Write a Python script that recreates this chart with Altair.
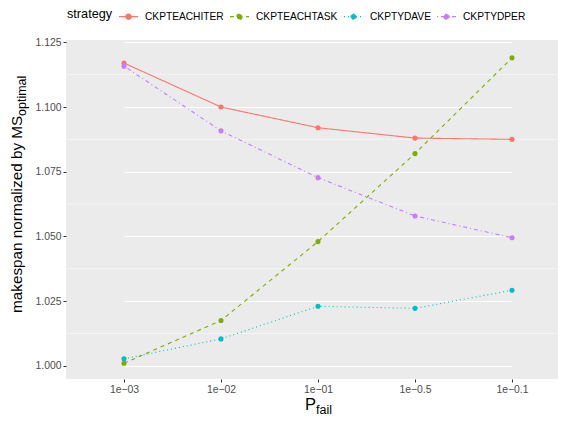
import altair as alt
import pandas as pd

# ---- data ----
pfail = ["1e\u221203", "1e\u221202", "1e\u221201", "1e\u22120.5", "1e\u22120.1"]
strategies = ["CKPTEACHITER", "CKPTEACHTASK", "CKPTYDAVE", "CKPTYDPER"]
ckpt_each_iter = [1.117, 1.100, 1.092, 1.088, 1.0875]
ckpt_each_task = [1.001, 1.0175, 1.048, 1.082, 1.119]
ckpt_yd_ave = [1.0027, 1.0104, 1.023, 1.0222, 1.0292]
ckpt_yd_per = [1.1158, 1.0908, 1.0727, 1.0579, 1.0495]
y_ticks = [1.000, 1.025, 1.050, 1.075, 1.100, 1.125]
y_minor = [1.0125, 1.0375, 1.0625, 1.0875, 1.1125]

colors = ["#F8766D", "#7CAE00", "#00BFC4", "#C77CFF"]
dashes = [[1, 0], [4, 4], [1, 3], [1, 3, 4, 3]]

series = [ckpt_each_iter, ckpt_each_task, ckpt_yd_ave, ckpt_yd_per]
rows = []
for s, vals in zip(strategies, series):
    for p, v in zip(pfail, vals):
        rows.append({"pfail": p, "value": v, "strategy": s})
df = pd.DataFrame(rows)

FONT = "Liberation Sans"

x_enc = alt.X(
    "pfail:N",
    sort=pfail,
    scale=alt.Scale(domain=pfail, range=[58, 446], padding=0),
    axis=alt.Axis(title=None, labelAngle=0, domain=False, tickColor="#333333",
                  tickSize=3, labelPadding=2, labelColor="#4D4D4D",
                  labelFontSize=10.4, gridColor="white", gridWidth=1.1),
)
y_axis = alt.Axis(title=None, values=y_ticks, format=".3f", domain=False,
                  tickColor="#333333", tickSize=3, labelPadding=2,
                  labelColor="#4D4D4D", labelFontSize=10.4,
                  gridColor="white", gridWidth=1.1)
y_scale = alt.Scale(domain=[0.9949, 1.1259], nice=False, zero=False)
y_enc = alt.Y("value:Q", scale=y_scale, axis=y_axis)
color_enc = alt.Color("strategy:N", scale=alt.Scale(domain=strategies, range=colors),
                      sort=strategies, title="strategy")
dash_enc = alt.StrokeDash("strategy:N", scale=alt.Scale(domain=strategies, range=dashes),
                          sort=strategies, title="strategy")

minor = alt.Chart(pd.DataFrame({"value": y_minor})).mark_rule(
    color="white", strokeWidth=0.55
).encode(y=y_enc)

lines = alt.Chart(df).mark_line(strokeWidth=1.1).encode(
    x=x_enc, y=y_enc, color=color_enc, strokeDash=dash_enc, detail="strategy:N"
)
points = alt.Chart(df).mark_point(filled=True, size=26, opacity=1).encode(
    x=x_enc, y=y_enc, color=color_enc
)

ytitle_main = alt.Chart(pd.DataFrame({"t": ["makespan normalized by MS"]})).mark_text(
    angle=270, align="left", baseline="alphabetic", fontSize=15.3, font=FONT, color="black"
).encode(text="t:N", x=alt.value(-44.5), y=alt.value(273))
ytitle_sub = alt.Chart(pd.DataFrame({"t": ["optimal"]})).mark_text(
    angle=270, align="left", baseline="alphabetic", fontSize=12.5, font=FONT, color="black"
).encode(text="t:N", x=alt.value(-40.5), y=alt.value(76))
xtitle_main = alt.Chart(pd.DataFrame({"t": ["P"]})).mark_text(
    align="left", baseline="alphabetic", fontSize=16.5, font=FONT, color="black"
).encode(text="t:N", x=alt.value(239), y=alt.value(370))
xtitle_sub = alt.Chart(pd.DataFrame({"t": ["fail"]})).mark_text(
    align="left", baseline="alphabetic", fontSize=12.5, font=FONT, color="black"
).encode(text="t:N", x=alt.value(250), y=alt.value(373.5))

symbol_path = "M-1,0H1M0.28,0A0.28,0.28,0,1,1,-0.28,0A0.28,0.28,0,1,1,0.28,0Z"

chart = alt.layer(minor, lines, points, ytitle_main, ytitle_sub, xtitle_main, xtitle_sub).properties(
    width=492, height=339,
    padding={"left": 58, "top": 32, "right": 0, "bottom": 37},
    autosize=alt.AutoSizeParams(type="none"),
).configure(
    font=FONT,
    background="white",
).configure_view(
    fill="#EBEBEB", stroke=None
).configure_legend(
    orient="none", legendX=1, legendY=-34, direction="horizontal",
    titleOrient="left", titleFontSize=12.7, titleFontWeight="normal", titleColor="black",
    titleFont=FONT, labelFont=FONT, labelFontSize=10.2, labelColor="black",
    symbolType=symbol_path, symbolSize=361, symbolStrokeWidth=1.1,
    labelOffset=6, columnPadding=3, titlePadding=5,
)

chart.save("out.html", embed_options={"renderer": "svg", "actions": False})
